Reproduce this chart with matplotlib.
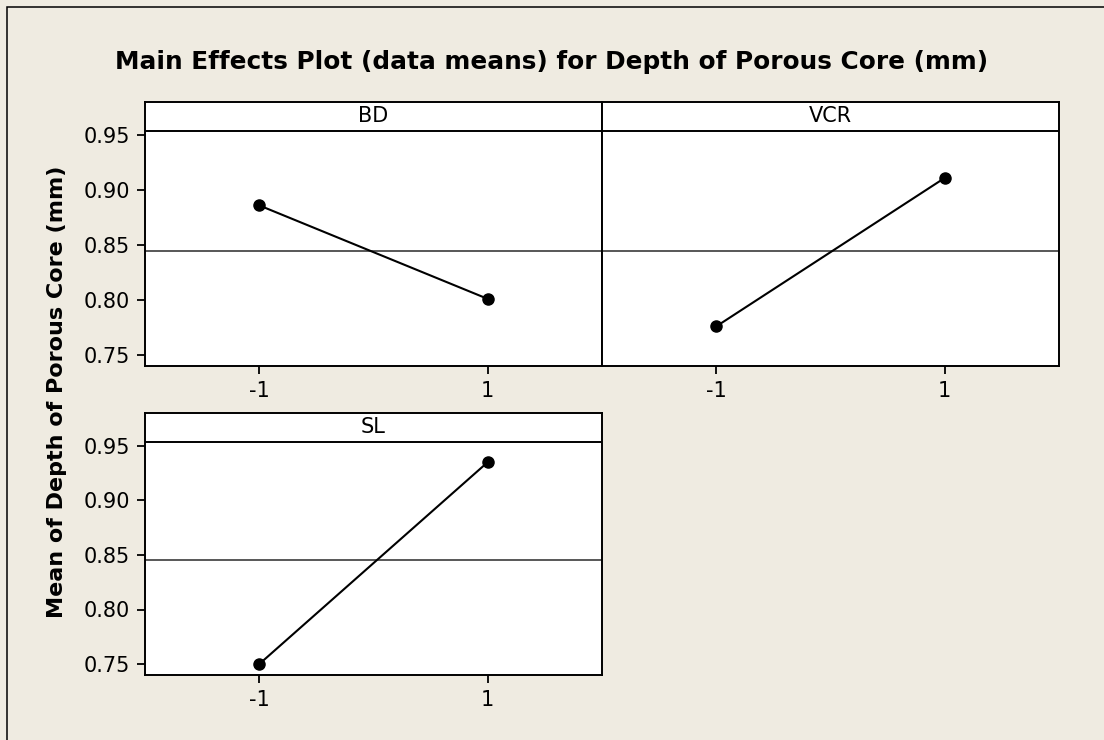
"""
Main effects plot for depth of porous core, drawn like the Minitab output
"""

import matplotlib
matplotlib.use("Agg")
import matplotlib.pyplot as plt
from matplotlib.patches import Rectangle


# data
factors = ["BD", "VCR", "SL"]
levels = [-1, 1]
level_labels = ["-1", "1"]
bd_means = [0.886, 0.801]
vcr_means = [0.776, 0.911]
sl_means = [0.750, 0.935]
grand_mean = 0.845
y_ticks = [0.75, 0.80, 0.85, 0.90, 0.95]

title = "Main Effects Plot (data means) for Depth of Porous Core (mm)"
y_label = "Mean of Depth of Porous Core (mm)"

BG = "#efebe1"
W, H = 1104, 740


def pixel_rect(left, top, right, bottom):
    """
    turns pixel edges into a figure fraction rectangle
    """
    return [left / W, 1 - bottom / H, (right - left) / W, (bottom - top) / H]


def drawPanel(fig, rect, name, means, show_y=True):
    """
    one panel with the strip at the top, the grand mean line and the means
    """
    ax = fig.add_axes(rect)
    ax.set_facecolor("white")
    ax.set_xlim(-2, 2)
    ax.set_ylim(0.74, 0.98)

    # strip with the factor name
    ax.axhline(0.9536, color="black", lw=1.4, zorder=3)
    ax.text(0, 0.967, name, ha="center", va="center", fontsize=15)

    ax.axhline(grand_mean, color="#4a4a4a", lw=1.3, zorder=1)
    ax.plot(levels, means, color="black", lw=1.5, marker="o",
            markersize=8, zorder=4)

    ax.set_xticks(levels)
    ax.set_xticklabels(level_labels)
    ax.set_yticks(y_ticks)
    ax.set_yticklabels(["%.2f" % v for v in y_ticks])
    ax.tick_params(direction="out", length=6, width=1.3, labelsize=15,
                   pad=5, color="black")
    if not show_y:
        ax.tick_params(left=False, labelleft=False)
    for sp in ax.spines.values():
        sp.set_linewidth(1.4)
        sp.set_color("black")
    return ax


fig = plt.figure(figsize=(W / 100, H / 100), dpi=100)
fig.patch.set_facecolor(BG)

# outer frame, runs off the right and bottom edges
fig.patches.append(Rectangle((7 / W, -0.05), 1.1, 1 - 7 / H + 0.05,
                             transform=fig.transFigure, fill=False,
                             edgecolor="black", lw=1.1))

drawPanel(fig, pixel_rect(145, 102, 602, 366), factors[0], bd_means)
drawPanel(fig, pixel_rect(602, 102, 1059, 366), factors[1], vcr_means,
          show_y=False)
drawPanel(fig, pixel_rect(145, 413, 602, 675), factors[2], sl_means)

fig.text(0.5, 1 - 62 / H, title, ha="center", va="center",
         fontsize=17.8, fontweight="bold")
fig.text(57 / W, 1 - 392 / H, y_label, ha="center", va="center",
         rotation=90, fontsize=16, fontweight="bold")

fig.savefig("out.png", dpi=100, facecolor=BG)
